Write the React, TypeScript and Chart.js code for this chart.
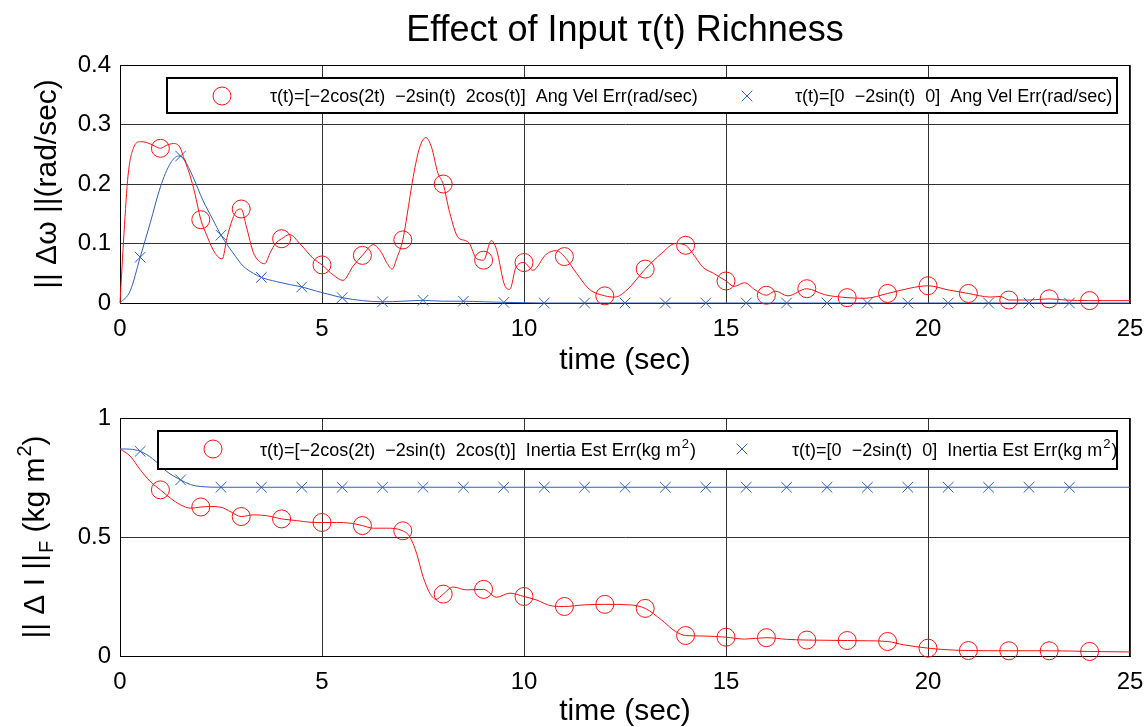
import React, { useEffect, useRef } from 'react';
import { Chart, registerables } from 'chart.js';
Chart.register(...registerables);

const FONT = "'Liberation Sans', Arial, Helvetica, sans-serif";
const RED = '#ff1010';
const BLUE = '#2e5fbf';

const TITLE = 'Effect of Input τ(t) Richness';
const X_TITLE = 'time (sec)';
const Y_TITLE_TOP = '|| Δω ||(rad/sec)';
const LEG_RICH = 'τ(t)=[−2cos(2t)  −2sin(t)  2cos(t)]';
const LEG_POOR = 'τ(t)=[0  −2sin(t)  0]';
const LEG_VEL = '  Ang Vel Err(rad/sec)';
const LEG_INER = '  Inertia Est Err(kg m';

const timeTicks = [0, 5, 10, 15, 20, 25];
const velTicks = [0, 0.1, 0.2, 0.3, 0.4];
const inerTicks = [0, 0.5, 1];

const richMarkers = [1, 2, 3, 4, 5, 6, 7, 8, 9, 10, 11, 12, 13, 14, 15, 16, 17, 18, 19, 20, 21, 22, 23, 24];
const poorMarkers = [0.5, 1.5, 2.5, 3.5, 4.5, 5.5, 6.5, 7.5, 8.5, 9.5, 10.5, 11.5, 12.5, 13.5, 14.5, 15.5, 16.5, 17.5, 18.5, 19.5, 20.5, 21.5, 22.5, 23.5];

const velRich: number[][] = [[0,0],[0.1,0.118],[0.2,0.215],[0.33,0.26],[0.5,0.271],[0.65,0.27],[0.85,0.264],[1,0.26],[1.15,0.265],[1.32,0.268],[1.48,0.262],[1.6,0.24],[1.73,0.215],[1.85,0.185],[2,0.14],[2.14,0.115],[2.3,0.09],[2.42,0.078],[2.53,0.074],[2.65,0.11],[2.78,0.14],[2.9,0.156],[3,0.158],[3.13,0.128],[3.3,0.085],[3.45,0.07],[3.58,0.066],[3.72,0.085],[3.85,0.1],[4,0.108],[4.2,0.115],[4.45,0.1],[4.78,0.075],[5,0.064],[5.28,0.047],[5.52,0.038],[5.77,0.062],[6,0.08],[6.27,0.098],[6.47,0.085],[6.6,0.068],[6.74,0.057],[6.85,0.075],[7,0.106],[7.1,0.145],[7.26,0.213],[7.42,0.262],[7.57,0.278],[7.71,0.262],[7.87,0.218],[8,0.2],[8.16,0.152],[8.37,0.11],[8.55,0.105],[8.65,0.1],[8.82,0.075],[9,0.072],[9.19,0.105],[9.32,0.09],[9.52,0.03],[9.65,0.023],[9.8,0.06],[10,0.068],[10.22,0.055],[10.55,0.082],[10.8,0.088],[11,0.078],[11.3,0.05],[11.62,0.023],[12,0.012],[12.25,0.01],[12.55,0.022],[13,0.057],[13.4,0.083],[13.75,0.1],[14,0.097],[14.18,0.083],[14.43,0.06],[14.69,0.05],[15,0.037],[15.2,0.028],[15.46,0.034],[15.72,0.022],[16,0.013],[16.22,0.02],[16.53,0.012],[17,0.024],[17.44,0.014],[18,0.009],[18.45,0.008],[19,0.016],[19.56,0.025],[20,0.029],[20.5,0.022],[21,0.016],[21.54,0.01],[21.8,0.011],[22,0.005],[22.5,0.005],[23,0.007],[23.4,0.005],[24,0.004],[25,0.004]];

const velPoor: number[][] = [[0,0],[0.25,0.02],[0.5,0.077],[0.75,0.135],[1,0.195],[1.25,0.235],[1.45,0.247],[1.5,0.247],[1.6,0.24],[1.8,0.213],[2.05,0.173],[2.3,0.14],[2.5,0.114],[2.8,0.084],[3.05,0.062],[3.3,0.05],[3.5,0.043],[3.87,0.036],[4.2,0.031],[4.5,0.027],[4.86,0.02],[5.2,0.014],[5.5,0.009],[6,0.004],[6.5,0.002],[7,0.003],[7.5,0.0045],[8,0.003],[8.5,0.003],[9,0.002],[9.5,0.001],[10,0.0005],[10.5,0],[11.5,0],[12.5,0],[13.5,0],[14.5,0],[15.5,0],[16.5,0],[17.5,0],[18.5,0],[19.5,0],[20.5,0],[21.5,0],[22.5,0],[23.5,0],[25,0]];

const inerRich: number[][] = [[0,0.87],[0.25,0.84],[0.5,0.783],[0.75,0.733],[1,0.698],[1.25,0.663],[1.5,0.635],[1.75,0.621],[2,0.626],[2.25,0.628],[2.5,0.625],[2.75,0.605],[3,0.586],[3.3,0.593],[3.65,0.589],[4,0.576],[4.37,0.569],[4.7,0.562],[5,0.561],[5.36,0.561],[5.7,0.558],[6,0.548],[6.27,0.537],[6.6,0.537],[7,0.526],[7.17,0.502],[7.34,0.432],[7.5,0.334],[7.67,0.264],[7.82,0.238],[8,0.26],[8.24,0.29],[8.57,0.278],[9,0.28],[9.32,0.247],[9.65,0.264],[10,0.25],[10.3,0.236],[10.7,0.21],[11,0.208],[11.5,0.215],[12,0.217],[12.6,0.215],[13,0.2],[13.4,0.152],[13.75,0.103],[14,0.086],[14.43,0.084],[15,0.079],[15.46,0.071],[16,0.077],[16.5,0.07],[17,0.067],[17.5,0.066],[18,0.065],[18.5,0.064],[19,0.061],[19.4,0.047],[20,0.033],[20.5,0.026],[21,0.023],[22,0.022],[23,0.022],[24,0.019],[25,0.017]];

const inerPoor: number[][] = [[0,0.87],[0.25,0.869],[0.5,0.86],[0.8,0.83],[1.15,0.776],[1.5,0.74],[1.75,0.72],[2,0.712],[2.5,0.709],[3.5,0.709],[4.5,0.709],[5.5,0.709],[6.5,0.709],[7.5,0.709],[8.5,0.709],[9.5,0.709],[10.5,0.709],[11.5,0.709],[12.5,0.709],[13.5,0.709],[14.5,0.709],[15.5,0.709],[16.5,0.709],[17.5,0.709],[18.5,0.709],[19.5,0.709],[20.5,0.709],[21.5,0.709],[22.5,0.709],[23.5,0.709],[25,0.709]];

function toXY(arr: number[][]) {
  return arr.map(([x, y]) => ({ x, y }));
}
function radii(arr: number[][], marks: number[], r: number) {
  return arr.map(([x]) => (marks.includes(x) ? r : 0));
}

function makeDatasets(rich: number[][], poor: number[][]) {
  return [
    {
      data: toXY(rich),
      borderColor: RED,
      borderWidth: 1,
      pointStyle: 'circle',
      pointRadius: radii(rich, richMarkers, 9),
      pointBorderColor: RED,
      pointBackgroundColor: 'rgba(0,0,0,0)',
      pointBorderWidth: 1,
      cubicInterpolationMode: 'monotone',
      clip: false,
    },
    {
      data: toXY(poor),
      borderColor: BLUE,
      borderWidth: 1,
      pointStyle: 'crossRot',
      pointRadius: radii(poor, poorMarkers, 7.5),
      pointBorderColor: BLUE,
      pointBackgroundColor: 'rgba(0,0,0,0)',
      pointBorderWidth: 1,
      cubicInterpolationMode: 'monotone',
      clip: false,
    },
  ];
}

function drawCircleMark(ctx: CanvasRenderingContext2D, x: number, y: number) {
  ctx.save();
  ctx.strokeStyle = RED;
  ctx.lineWidth = 1;
  ctx.beginPath();
  ctx.arc(x, y, 9, 0, Math.PI * 2);
  ctx.stroke();
  ctx.restore();
}
function drawCrossMark(ctx: CanvasRenderingContext2D, x: number, y: number) {
  const d = 7.5 * Math.SQRT1_2;
  ctx.save();
  ctx.strokeStyle = BLUE;
  ctx.lineWidth = 1;
  ctx.beginPath();
  ctx.moveTo(x - d, y - d);
  ctx.lineTo(x + d, y + d);
  ctx.moveTo(x - d, y + d);
  ctx.lineTo(x + d, y - d);
  ctx.stroke();
  ctx.restore();
}

function drawSupText(ctx: CanvasRenderingContext2D, x: number, y: number, main: string, size: number) {
  ctx.font = `${size}px ${FONT}`;
  ctx.fillText(main, x, y);
  let w = ctx.measureText(main).width;
  ctx.font = `${Math.round(size * 0.7)}px ${FONT}`;
  ctx.fillText('2', x + w + 1, y - size * 0.42);
  w += ctx.measureText('2').width + 2;
  ctx.font = `${size}px ${FONT}`;
  ctx.fillText(')', x + w, y);
}

function boxPlugin() {
  return {
    id: 'boxFrame',
    beforeDatasetsDraw(chart: any) {
      const { ctx, chartArea: a } = chart;
      ctx.save();
      ctx.strokeStyle = '#000';
      ctx.lineWidth = 1;
      ctx.strokeRect(a.left + 0.5, a.top + 0.5, a.right - a.left - 1, a.bottom - a.top);
      ctx.restore();
    },
  };
}

function topDecor() {
  return {
    id: 'topDecor',
    afterDraw(chart: any) {
      const ctx: CanvasRenderingContext2D = chart.ctx;
      const a = chart.chartArea;
      const cx = (a.left + a.right) / 2;
      ctx.save();
      ctx.fillStyle = '#000';
      ctx.textAlign = 'center';
      ctx.textBaseline = 'alphabetic';
      ctx.font = `36px ${FONT}`;
      ctx.fillText(TITLE, cx, 41);
      ctx.font = `30px ${FONT}`;
      ctx.fillText(X_TITLE, cx, 369);
      ctx.save();
      ctx.translate(56, (a.top + a.bottom) / 2);
      ctx.rotate(-Math.PI / 2);
      ctx.fillText(Y_TITLE_TOP, 0, 0);
      ctx.restore();
      ctx.fillStyle = '#fff';
      ctx.fillRect(167, 78, 950, 35);
      ctx.strokeStyle = '#000';
      ctx.lineWidth = 2;
      ctx.strokeRect(167, 78, 950, 35);
      drawCircleMark(ctx, 222, 96);
      drawCrossMark(ctx, 747, 96);
      ctx.fillStyle = '#000';
      ctx.textAlign = 'left';
      ctx.font = `18px ${FONT}`;
      ctx.fillText(LEG_RICH + LEG_VEL, 270, 102);
      ctx.fillText(LEG_POOR + LEG_VEL, 795, 102);
      ctx.restore();
    },
  };
}

function bottomDecor() {
  return {
    id: 'bottomDecor',
    afterDraw(chart: any) {
      const ctx: CanvasRenderingContext2D = chart.ctx;
      const a = chart.chartArea;
      const cx = (a.left + a.right) / 2;
      ctx.save();
      ctx.fillStyle = '#000';
      ctx.textAlign = 'center';
      ctx.textBaseline = 'alphabetic';
      ctx.font = `30px ${FONT}`;
      ctx.fillText(X_TITLE, cx, 335);
      const p1 = '|| Δ I ||';
      const p2 = 'F';
      const p3 = ' (kg m';
      const p4 = '2';
      const p5 = ')';
      ctx.font = `30px ${FONT}`;
      const w1 = ctx.measureText(p1).width;
      const w3 = ctx.measureText(p3).width;
      const w5 = ctx.measureText(p5).width;
      ctx.font = `20px ${FONT}`;
      const w2 = ctx.measureText(p2).width;
      const w4 = ctx.measureText(p4).width;
      const total = w1 + w2 + w3 + w4 + w5 + 2;
      ctx.save();
      ctx.translate(44, (a.top + a.bottom) / 2);
      ctx.rotate(-Math.PI / 2);
      ctx.textAlign = 'left';
      let x = -total / 2;
      ctx.font = `30px ${FONT}`;
      ctx.fillText(p1, x, 0);
      x += w1 + 1;
      ctx.font = `20px ${FONT}`;
      ctx.fillText(p2, x, 9);
      x += w2;
      ctx.font = `30px ${FONT}`;
      ctx.fillText(p3, x, 0);
      x += w3 + 1;
      ctx.font = `20px ${FONT}`;
      ctx.fillText(p4, x, -13);
      x += w4;
      ctx.font = `30px ${FONT}`;
      ctx.fillText(p5, x, 0);
      ctx.restore();
      ctx.fillStyle = '#fff';
      ctx.fillRect(158, 46, 959, 38);
      ctx.strokeStyle = '#000';
      ctx.lineWidth = 2;
      ctx.strokeRect(158, 46, 959, 38);
      drawCircleMark(ctx, 213, 64);
      drawCrossMark(ctx, 742, 64);
      ctx.fillStyle = '#000';
      ctx.textAlign = 'left';
      drawSupText(ctx, 260, 71, LEG_RICH + LEG_INER, 18);
      drawSupText(ctx, 792, 71, LEG_POOR + LEG_INER, 18);
      ctx.restore();
    },
  };
}

function makeScales(yTicks: number[], yMax: number, xAxisHeight: number) {
  const tickFont = { family: FONT, size: 24 };
  return {
    x: {
      type: 'linear',
      min: 0,
      max: 25,
      afterBuildTicks: (s: any) => {
        s.ticks = timeTicks.map((v) => ({ value: v }));
      },
      afterFit: (s: any) => {
        s.height = xAxisHeight;
        s.paddingLeft = 0;
        s.paddingRight = 0;
      },
      grid: { color: '#333', lineWidth: 1, drawTicks: false },
      border: { color: '#000', width: 1 },
      ticks: { font: tickFont, color: '#000', padding: 12, maxRotation: 0, autoSkip: false, callback: (v: number) => String(v) },
    },
    y: {
      type: 'linear',
      min: 0,
      max: yMax,
      afterBuildTicks: (s: any) => {
        s.ticks = yTicks.map((v) => ({ value: v }));
      },
      afterFit: (s: any) => {
        s.width = 120;
        s.paddingTop = 0;
        s.paddingBottom = 0;
      },
      grid: { color: '#333', lineWidth: 1, drawTicks: false },
      border: { color: '#000', width: 1 },
      ticks: { font: tickFont, color: '#000', padding: 9, autoSkip: false, callback: (v: number) => String(v) },
    },
  };
}

function useChart(ref: React.RefObject<HTMLCanvasElement>, build: () => any) {
  useEffect(() => {
    if (!ref.current) return;
    const chart = new Chart(ref.current, build());
    return () => chart.destroy();
  }, []);
}

export default function App() {
  const topRef = useRef<HTMLCanvasElement>(null);
  const botRef = useRef<HTMLCanvasElement>(null);

  useChart(topRef, () => ({
    type: 'line',
    data: { datasets: makeDatasets(velRich, velPoor) },
    options: {
      responsive: false,
      animation: false,
      devicePixelRatio: 1,
      layout: { padding: { left: 0, right: 16, top: 65, bottom: 0 } },
      plugins: { legend: { display: false }, tooltip: { enabled: false }, title: { display: false } },
      scales: makeScales(velTicks, 0.4, 82),
    },
    plugins: [boxPlugin(), topDecor()],
  }));

  useChart(botRef, () => ({
    type: 'line',
    data: { datasets: makeDatasets(inerRich, inerPoor) },
    options: {
      responsive: false,
      animation: false,
      devicePixelRatio: 1,
      layout: { padding: { left: 0, right: 16, top: 33, bottom: 0 } },
      plugins: { legend: { display: false }, tooltip: { enabled: false }, title: { display: false } },
      scales: makeScales(inerTicks, 1, 71),
    },
    plugins: [boxPlugin(), bottomDecor()],
  }));

  return (
    <div style={{ position: 'absolute', left: 0, top: 0, width: 1146, height: 727, background: '#fff', overflow: 'hidden' }}>
      <canvas ref={topRef} width={1146} height={385} style={{ position: 'absolute', left: 0, top: 0, width: 1146, height: 385 }} />
      <canvas ref={botRef} width={1146} height={342} style={{ position: 'absolute', left: 0, top: 385, width: 1146, height: 342 }} />
    </div>
  );
}
